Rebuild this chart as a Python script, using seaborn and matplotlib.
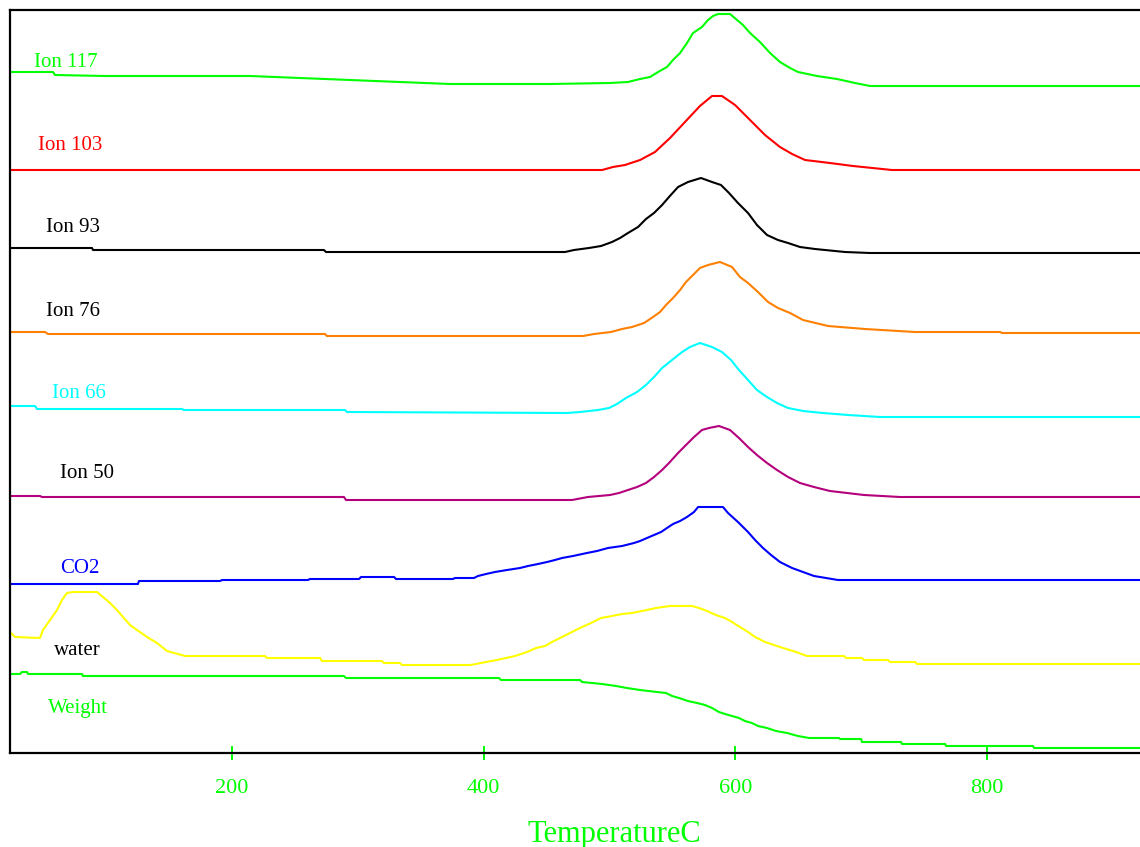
import numpy as np
import pandas as pd
import matplotlib
matplotlib.use("Agg")
import matplotlib.pyplot as plt
import seaborn as sns

# Stacked TGA-MS traces: temperature (C) vs. offset signal (arbitrary units)
ion117_t = [23.6, 57.8, 59.4, 99.1, 214.3, 254.1, 293.8, 333.5, 373.3, 452.8, 500.4, 514.7, 524.3,
            532.2, 538.6, 545.7, 550.5, 556.1, 561.6, 566.4, 573.5, 578.3, 582.3, 586.2, 595.8, 601.4,
            606.1, 611.7, 619.6, 627.6, 635.5, 643.5, 649.8, 664.9, 680.8, 695.1, 707.0, 921.6]
ion117_v = [681, 681, 678, 677, 677, 675, 673, 671, 669, 669, 670, 671, 674,
            676, 681, 686, 693, 700, 710, 720, 726, 733, 737, 739, 739, 733,
            728, 720, 711, 700, 691, 685, 681, 677, 674, 670, 667, 667]

ion103_t = [23.6, 494.1, 502.8, 512.3, 524.3, 536.2, 548.1, 560.0, 571.9, 581.5, 589.4, 599.8,
            611.7, 623.6, 635.5, 645.1, 655.4, 675.2, 693.5, 724.5, 921.6]
ion103_v = [583, 583, 586, 588, 593, 601, 615, 631, 647, 657, 657, 648,
            633, 618, 606, 599, 593, 590, 587, 583, 583]

ion93_t = [23.6, 88.8, 89.6, 273.1, 274.7, 464.7, 471.8, 483.7, 493.3, 502.0, 508.4, 514.7, 522.7,
           529.0, 535.4, 541.8, 547.3, 554.5, 562.4, 572.7, 581.5, 588.6, 595.0, 602.1, 610.1,
           617.2, 625.2, 633.9, 641.9, 651.4, 663.3, 687.2, 707.0, 921.6]
ion93_v = [505, 505, 503, 503, 501, 501, 503, 505, 507, 511, 515, 520, 526,
           534, 540, 548, 556, 566, 571, 575, 571, 568, 560, 550, 540,
           528, 518, 513, 510, 506, 504, 501, 500, 500]

ion76_t = [23.6, 51.4, 53.8, 273.9, 275.5, 479.0, 487.7, 501.2, 510.0, 517.9, 527.5, 534.6, 540.2,
           544.9, 550.5, 556.1, 560.8, 566.4, 571.9, 578.3, 587.8, 597.4, 603.7, 610.1, 618.0,
           626.0, 633.9, 643.5, 653.8, 673.7, 703.0, 742.8, 810.4, 812.0, 921.6]
ion76_v = [421, 421, 419, 419, 417, 417, 419, 421, 424, 426, 430, 436, 441,
           448, 455, 463, 471, 478, 485, 488, 491, 486, 476, 470, 461,
           451, 445, 440, 433, 427, 424, 421, 421, 420, 420]

ion66_t = [23.6, 43.5, 45.1, 160.3, 161.9, 289.8, 291.4, 466.3, 476.6, 490.9, 499.6, 506.0, 513.1,
           521.9, 529.0, 535.4, 541.8, 549.7, 557.7, 564.0, 571.9, 581.5, 589.4, 596.6, 602.9,
           610.1, 617.2, 625.2, 633.1, 641.9, 653.8, 669.7, 689.6, 715.0, 921.6]
ion66_v = [347, 347, 344, 344, 343, 343, 341, 340, 341, 343, 345, 349, 355,
           361, 368, 376, 385, 393, 401, 406, 410, 406, 401, 393, 383,
           373, 363, 356, 350, 345, 342, 340, 338, 336, 336]

ion50_t = [23.6, 47.4, 49.0, 289.0, 290.6, 470.2, 482.9, 500.4, 507.6, 514.7, 521.9, 529.0, 535.4,
           541.8, 547.3, 554.5, 560.8, 567.2, 573.5, 579.1, 587.0, 595.8, 602.9, 610.1, 617.2,
           625.2, 633.1, 641.9, 651.4, 662.5, 675.2, 688.8, 702.3, 730.9, 921.6]
ion50_v = [257, 257, 256, 256, 253, 253, 256, 258, 260, 263, 266, 270, 276,
           283, 290, 300, 308, 316, 323, 325, 327, 323, 315, 306, 298,
           290, 283, 276, 270, 266, 262, 260, 258, 256, 256]

co2_t = [23.6, 125.3, 126.1, 190.5, 192.1, 260.4, 262.0, 301.0, 302.5, 328.8, 330.4, 375.7, 377.2,
         392.3, 395.5, 401.9, 409.0, 418.6, 428.9, 435.3, 443.2, 450.4, 456.7, 462.3, 471.0,
         482.1, 490.1, 498.8, 510.0, 519.5, 524.3, 529.8, 535.4, 541.0, 545.7, 550.5, 556.1,
         561.6, 567.2, 570.4, 590.2, 594.2, 602.1, 610.1, 615.7, 622.0, 628.4, 635.5, 645.1,
         653.8, 662.5, 672.1, 681.6, 921.6]
co2_v = [169, 169, 172, 172, 173, 173, 174, 174, 176, 176, 174, 174, 175,
         175, 177, 179, 181, 183, 185, 187, 189, 191, 193, 195, 197,
         200, 202, 205, 207, 210, 212, 215, 218, 221, 225, 229, 232,
         236, 241, 246, 246, 240, 231, 221, 213, 205, 198, 191, 185,
         181, 177, 175, 173, 173]

water_t = [23.6, 27.6, 47.4, 49.8, 55.4, 61.0, 64.9, 68.9, 73.9, 92.7, 97.5, 103.1, 108.6, 113.4,
           119.0, 124.5, 132.5, 140.4, 148.4, 162.7, 226.2, 227.8, 270.0, 271.5, 319.2, 320.8,
           333.5, 335.1, 389.2, 394.0, 401.9, 410.6, 417.8, 424.9, 434.5, 441.6, 448.8, 454.3,
           460.7, 468.6, 476.6, 485.3, 493.3, 502.0, 510.0, 517.9, 525.9, 537.0, 548.1, 565.6,
           571.2, 577.5, 584.6, 591.8, 597.4, 603.7, 610.1, 615.7, 623.6, 635.5, 648.2, 657.0,
           686.4, 688.0, 700.7, 702.3, 721.3, 722.9, 742.8, 744.4, 921.6]
water_v = [121, 116, 115, 123, 133, 143, 153, 160, 161, 161, 156, 150, 143, 136,
           128, 123, 116, 110, 102, 97, 97, 95, 95, 92, 92, 90,
           90, 88, 88, 89, 91, 93, 95, 97, 101, 105, 107, 111,
           115, 120, 125, 130, 135, 137, 139, 140, 142, 145, 147, 147,
           145, 142, 138, 135, 131, 126, 121, 116, 111, 106, 101, 97,
           97, 95, 95, 93, 93, 91, 91, 89, 89]

weight_t = [23.6, 31.5, 33.1, 37.1, 37.9, 80.8, 81.6, 289.0, 290.6, 412.2, 413.8, 476.6, 478.2,
            494.1, 505.2, 513.9, 524.3, 537.8, 544.9, 549.7, 555.3, 562.4, 569.6, 575.9, 581.5,
            587.0, 591.8, 597.4, 602.9, 607.7, 613.2, 618.0, 625.2, 632.3, 641.1, 649.8, 658.6,
            682.4, 683.2, 699.9, 700.7, 731.7, 732.5, 766.7, 767.5, 836.6, 837.4, 921.6]
weight_v = [79, 79, 81, 81, 79, 79, 77, 77, 75, 75, 73, 73, 71,
            69, 67, 65, 63, 61, 60, 57, 55, 52, 50, 48, 45,
            41, 39, 37, 35, 32, 30, 27, 25, 22, 20, 17, 15,
            15, 14, 14, 11, 11, 9, 9, 7, 7, 5, 5]

series_names = ["Ion 117", "Ion 103", "Ion 93", "Ion 76", "Ion 66", "Ion 50", "CO2", "water", "Weight"]
series_colors = ["#00ff00", "#ff0000", "#000000", "#ff8000", "#00ffff", "#b4007c", "#0000ff",
                 "#ffff00", "#00ff00"]
label_colors = ["#00ff00", "#ff0000", "#000000", "#000000", "#00ffff", "#000000", "#0000ff",
                "#000000", "#00ff00"]
# label anchor (temperature, signal) for each trace name
label_t = [42.7, 45.9, 52.2, 52.2, 57.0, 63.3, 63.3, 58.6, 53.8]
label_v = [686, 603, 521, 437, 355, 275, 180, 98, 40]

x_ticks = [200, 400, 600, 800]

all_t = [ion117_t, ion103_t, ion93_t, ion76_t, ion66_t, ion50_t, co2_t, water_t, weight_t]
all_v = [ion117_v, ion103_v, ion93_v, ion76_v, ion66_v, ion50_v, co2_v, water_v, weight_v]

frames = []
for name, t, v in zip(series_names, all_t, all_v):
    frames.append(pd.DataFrame({"temp": t, "signal": v, "trace": name, "order": np.arange(len(t))}))
df = pd.concat(frames, ignore_index=True)

sns.set_theme(style="white")
plt.rcParams["font.family"] = ["Liberation Serif", "DejaVu Serif"]

fig = plt.figure(figsize=(11.4, 8.47), dpi=100)
ax = fig.add_axes([10 / 1140, 94 / 847, 1130 / 1140, 743 / 847])

sns.lineplot(data=df, x="temp", y="signal", hue="trace", units="trace", estimator=None, sort=False,
             palette=dict(zip(series_names, series_colors)), hue_order=series_names,
             linewidth=1.5, legend=False, ax=ax)

for name, col, tx, ty in zip(series_names, label_colors, label_t, label_v):
    ax.text(tx, ty, name, color=col, fontsize=15, ha="left", va="baseline")

ax.set_xlim(23.6, 921.6)
ax.set_ylim(0, 743)
ax.set_xticks(x_ticks)
ax.set_xticklabels([str(t) for t in x_ticks])
ax.set_yticks([])
ax.tick_params(axis="x", direction="inout", length=9.5, width=1.4, color="#00ff00",
               labelcolor="#00ff00", labelsize=16, pad=14, bottom=True)
ax.set_ylabel("")
ax.set_xlabel("TemperatureC", color="#00ff00", fontsize=22)
ax.xaxis.label.set_va("baseline")
ax.xaxis.set_label_coords(0.535, -0.12)

for side in ["left", "top", "bottom"]:
    ax.spines[side].set_color("black")
    ax.spines[side].set_linewidth(1.6)
ax.spines["right"].set_visible(False)

fig.savefig("out.png", dpi=100)
